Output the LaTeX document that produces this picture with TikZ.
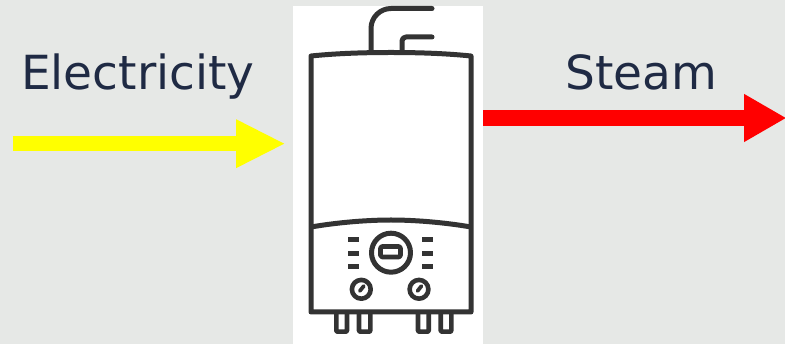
\documentclass[tikz,border=0pt]{standalone}
\usepackage{fontspec}
\setmainfont{DejaVu Sans}
\usetikzlibrary{arrows.meta}
\definecolor{bgc}{HTML}{E6E8E6}
\definecolor{inkc}{HTML}{1F2A44}
\definecolor{linec}{HTML}{333333}
\definecolor{flowyellow}{HTML}{FFFF00}
\definecolor{flowred}{HTML}{FF0000}
\tikzset{
  label text/.style={text=inkc,font=\fontsize{47}{47}\selectfont,inner sep=0pt,anchor=base west},
  flow/.style n args={2}{line width=15.5pt,color=#1,-{Triangle[length=#2,width=45pt]}},
  icon/.style={draw=linec,line width=5pt,line join=round},
  iconthin/.style={draw=linec,line width=4.6pt,line join=round}
}
\begin{document}
\begin{tikzpicture}[x=1pt,y=-1pt]
\useasboundingbox (0,0) rectangle (785,344);
\fill[bgc] (0,0) rectangle (785,344);
\node[fill=white,minimum width=190pt,minimum height=338pt,inner sep=0pt,anchor=north west] (boiler) at (293,6) {};
\node[label text] (electricity) at (21,89.5) {Electricity};
\node[label text] (steam) at (565,90) {Steam};
\coordinate (yin) at (12.5,143.7);
\coordinate (yout) at (285.5,143.7);
\coordinate (rin) at (483,118);
\coordinate (rout) at (786.5,118);
\draw[flow={flowyellow}{49.5pt}] (yin) -- (yout);
\draw[flow={flowred}{42.5pt}] (rin) -- (rout);
% body
\draw[icon] (311,312) -- (311,56) .. controls (340,53) and (370,52.5) .. (391,52.5) .. controls (412,52.5) and (442,53) .. (471,56) -- (471,312) -- cycle;
\draw[icon] (311,227) .. controls (340,222) and (370,220) .. (391,220) .. controls (412,220) and (442,222) .. (471,227);
% pipes
\draw[icon,line cap=round,rounded corners=20pt] (371,52) -- (371,8.5) -- (432,8.5);
\draw[icon,line cap=round,rounded corners=4pt] (402,52) -- (402,37) -- (432,37);
% display
\draw[icon] (391,252.7) circle[radius=19.5];
\draw[iconthin,rounded corners=1.5pt] (380.5,246.5) rectangle (400.5,257);
% dashes
\foreach \yy in {239.7,253.3,266.7}{
  \draw[icon] (348,\yy) -- (358.7,\yy);
  \draw[icon] (422.3,\yy) -- (433,\yy);
}
% knobs
\foreach \xx in {361.3,419}{
  \draw[iconthin] (\xx,289.3) circle[radius=9.4];
  \draw[draw=linec,line width=3.8pt,line cap=round] (\xx-1.5,291) -- (\xx+2.5,286);
}
% feet
\foreach \xa/\xb in {336.3/347,359/370.3,418/428.7,440.7/451.3}{
  \draw[iconthin,rounded corners=1pt] (\xa,312) -- (\xa,331.7) -- (\xb,331.7) -- (\xb,312);
}
\end{tikzpicture}
\end{document}
